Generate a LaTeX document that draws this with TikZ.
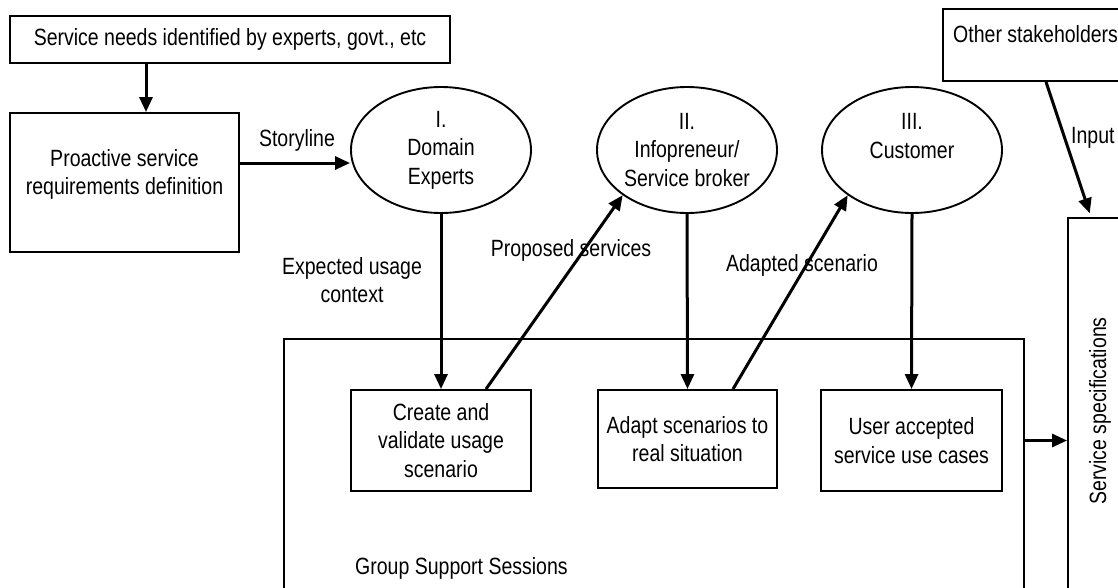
\documentclass[tikz,border=0pt]{standalone}
\usepackage{fontspec}
\setmainfont{Liberation Sans}[FakeStretch=0.83]
\usetikzlibrary{arrows.meta,shapes.geometric}
\begin{document}
\begin{tikzpicture}[x=1pt,y=-1pt,
  every node/.style={font=\fontsize{23.5}{28.5}\selectfont},
  box/.style={draw,line width=1.9pt,rectangle,inner sep=0pt,align=center},
  oval/.style={draw,line width=1.9pt,ellipse,inner sep=0pt,align=center,minimum width=180pt,minimum height=126pt},
  txt/.style={align=center,inner sep=0pt},
  arr/.style={line width=3pt,-{Triangle[length=15pt,width=13pt]}},
  ]
\useasboundingbox (0,0) rectangle (1118,587);
\clip (0,0) rectangle (1118,587);
% boxes
\node[box,minimum width=440pt,minimum height=47pt] (needs) at (230,39.5) {Service needs identified by experts, govt., etc};
\node[box,minimum width=229pt,minimum height=139pt,
  label={[txt,yshift=8pt]center:Proactive service\\requirements definition}] (proact) at (124.5,182.5) {};
\node[oval] (domain) at (441,150) {I.\\Domain\\Experts};
\node[oval] (broker) at (687,150) {II.\\Infopreneur/\\Service broker};
\node[oval] (customer) at (912,150) {III.\\Customer\\\mbox{}};
\node[box,minimum width=257pt,minimum height=72pt] (others) at (1071.5,45) {};
\node[txt,anchor=base west] (otherstxt) at (953,42) {Other stakeholders};
\node[box,minimum width=132pt,minimum height=432pt] (spec) at (1134,434) {};
\node[txt,rotate=90] (spectxt) at (1100,411) {Service specifications};
\node[box,minimum width=740pt,minimum height=361pt] (gss) at (654,519.5) {};
\node[txt,anchor=west] (gsstxt) at (355,568) {Group Support Sessions};
\node[box,minimum width=180pt,minimum height=101pt] (create) at (441,440.5) {Create and\\validate usage\\scenario};
\node[box,minimum width=179pt,minimum height=98pt] (adapt) at (687.5,439) {Adapt scenarios to\\real situation};
\node[box,minimum width=181pt,minimum height=101pt] (user) at (911.5,440.5) {User accepted\\service use cases};
% labels
\node[txt] (storylbl) at (297,140) {Storyline};
\node[txt] (expectlbl) at (352,280) {Expected usage\\context};
\node[txt] (proplbl) at (571,250) {Proposed services};
\node[txt] (adaptlbl) at (802,265) {Adapted scenario};
\node[txt,anchor=west] (inputlbl) at (1071,138) {Input};
% connectors
\draw[arr] ([xshift=21.5pt]proact.north |- needs.south) -- ([xshift=21.5pt]proact.north);
\draw[arr] ([yshift=19.5pt]proact.east) -- ([yshift=19.5pt]proact.east -| domain.west);
\draw[arr] (domain.south) -- (create.north);
\draw[arr] (broker.south) -- (adapt.north);
\draw[arr] (customer.south) -- (user.north);
\draw[arr] ([xshift=45pt]create.north) -- (broker.south west);
\draw[arr] ([xshift=45.5pt]adapt.north) -- (customer.south west);
\draw[arr,shorten >=4pt] ([xshift=-25.5pt]others.south) -- ([xshift=-43pt]spec.north);
\draw[arr] (gss.east |- user.center) -- (spec.west |- user.center);
\end{tikzpicture}
\end{document}
